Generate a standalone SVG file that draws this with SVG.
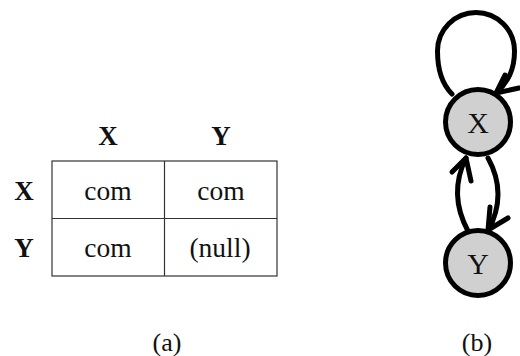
<svg xmlns="http://www.w3.org/2000/svg" width="520" height="356" viewBox="0 0 520 356">
  <style>
    text { font-family: "Liberation Serif", "Times New Roman", "DejaVu Serif", serif; fill: #111; text-anchor: middle; }
    .hd { font-size: 27px; font-weight: bold; }
    .cell { font-size: 27.5px; }
    .cap { font-size: 26px; }
    .grid { stroke: #333; stroke-width: 1.2; fill: none; }
    .node { fill: #d1d0d1; stroke: #000; stroke-width: 5; }
    .nl { font-size: 30px; }
    .edge { fill: none; stroke: #000; stroke-width: 5; stroke-linecap: round; stroke-linejoin: round; }
  </style>
  <rect width="520" height="356" fill="#fff"/>

  <!-- (a) relation table -->
  <g id="table">
    <rect class="grid" x="52" y="161" width="225" height="115"/>
    <line class="grid" x1="164.5" y1="161" x2="164.5" y2="276"/>
    <line class="grid" x1="52" y1="218.5" x2="277" y2="218.5"/>
    <text class="hd" x="108" y="145">X</text>
    <text class="hd" x="221" y="145">Y</text>
    <text class="hd" x="24" y="200">X</text>
    <text class="hd" x="24" y="257">Y</text>
    <text class="cell" x="108" y="200">com</text>
    <text class="cell" x="221" y="200">com</text>
    <text class="cell" x="108" y="257">com</text>
    <text class="cell" x="220" y="257">(null)</text>
  </g>
  <text class="cap" x="167" y="351">(a)</text>

  <!-- (b) graph -->
  <g id="connectors">
    <!-- self loop on X -->
    <path class="edge" d="M452,94 C442,84 437.5,68 437.5,51 A38.5,38.5 0 0 1 514.5,51 C514.5,70 508,82 496,93"/>
    <polyline class="edge" points="505,75 496,93 519,88"/>
    <!-- Y -> X -->
    <path class="edge" d="M468,231 Q448,194 466,158"/>
    <polyline class="edge" points="452,172 466,158 471,181"/>
    <!-- X -> Y -->
    <path class="edge" d="M488,158 Q508,194 488,231"/>
    <polyline class="edge" points="490,207 488,230 508,218"/>
  </g>
  <g id="node-X">
    <circle class="node" cx="478" cy="122" r="32.5"/>
    <text class="nl" x="478" y="133">X</text>
  </g>
  <g id="node-Y">
    <circle class="node" cx="478" cy="263" r="32.5"/>
    <text class="nl" x="478" y="274">Y</text>
  </g>
  <text class="cap" x="477" y="351">(b)</text>
</svg>
